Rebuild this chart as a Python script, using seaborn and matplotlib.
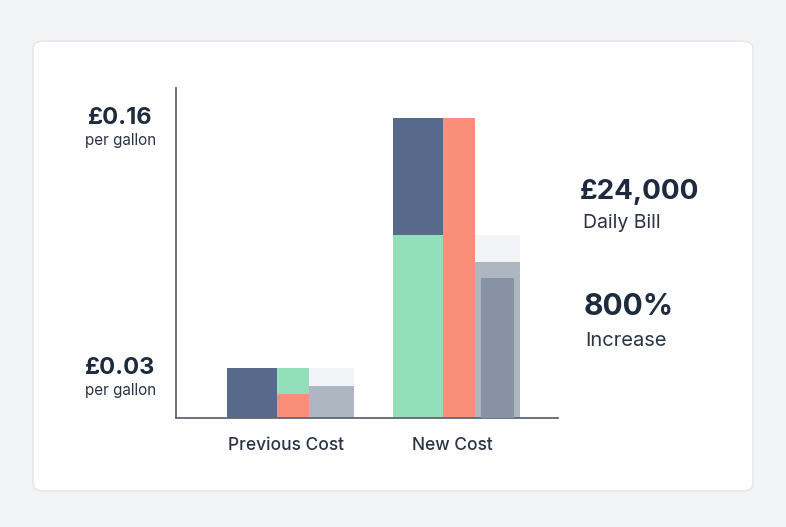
import seaborn as sns
from matplotlib import pyplot as plt
from matplotlib.patches import FancyBboxPatch
import pandas as pd

# data (cost per gallon, GBP)
groups = ["Previous Cost", "New Cost"]
col1_bottom = [0.0, 0.0976]     # green base (New only)
col1_top = [0.0267, 0.0624]     # dark blue on top
col2_bottom = [0.0128, 0.16]    # coral
col2_top = [0.0139, 0.0]        # green on top (Previous only)
col3_back = [0.0267, 0.0976]    # faint backdrop
col3_gray = [0.0171, 0.0832]    # gray bar
col3_inner = [0.0, 0.0747]      # darker inner bar
price_labels = ["£0.16", "£0.03"]
price_values = [0.16, 0.0267]

sns.set_theme(style="white")
plt.rcParams["font.family"] = ["Inter", "DejaVu Sans"]

BLUE = "#576a8c"
GREEN = "#93dfba"
CORAL = "#fa8e78"
GRAY = "#aeb6c2"
DGRAY = "#8792a4"
FAINT = "#f2f4f7"
INK = "#1e2a3d"

fig = plt.figure(figsize=(7.86, 5.27), dpi=100)
fig.patch.set_facecolor("#f3f4f6")
card = FancyBboxPatch((33 / 786, 36 / 527), 720 / 786, 450 / 527,
                      boxstyle="round,pad=0,rounding_size=0.014",
                      transform=fig.transFigure, facecolor="white",
                      edgecolor="#e3e5e9", linewidth=1.0, zorder=0)
fig.patches.append(card)

ax = fig.add_axes([176 / 786, 109 / 527, 382 / 786, 330 / 527])
ax.set_facecolor("none")
ax.set_zorder(2)

df = pd.DataFrame({"group": groups, "c1b": col1_bottom, "c1t": col1_top,
                   "c2b": col2_bottom, "c2t": col2_top, "c3a": col3_back,
                   "c3g": col3_gray, "c3i": col3_inner})
x = range(len(df))
w1, w2, w3 = 0.301, 0.195, 0.271
kw = dict(align="edge", linewidth=0)

ax.bar([i + 0.494 for i in x], df["c3a"], width=w3, color=FAINT, zorder=1, **kw)
ax.bar([i + 0.494 for i in x], df["c3g"], width=w3, color=GRAY, zorder=2, **kw)
ax.bar([i + 0.53 for i in x], df["c3i"], width=0.199, color=DGRAY, zorder=3, **kw)
ax.bar(list(x), df["c1b"], width=w1, color=GREEN, zorder=2, **kw)
ax.bar(list(x), df["c1t"], bottom=df["c1b"], width=w1, color=BLUE, zorder=2, **kw)
ax.bar([i + w1 for i in x], df["c2b"], width=w2, color=CORAL, zorder=2, **kw)
ax.bar([i + w1 for i in x], df["c2t"], bottom=df["c2b"], width=w2, color=GREEN, zorder=2, **kw)

ax.set_xlim(-0.307, 1.994)
ax.set_ylim(0, 0.176)
ax.set_xticks([i + 0.357 for i in x])
ax.set_xticklabels(groups, fontsize=12.5, color="#2b3445", fontweight="medium")
ax.tick_params(axis="x", length=0, pad=14)
ax.set_yticks([])
sns.despine(ax=ax)
for s in ["left", "bottom"]:
    ax.spines[s].set_color("#5f6673")
    ax.spines[s].set_linewidth(1.3)

# price labels to the left of the axis
for lab, v in zip(price_labels, price_values):
    ax.annotate(lab, xy=(0, v), xycoords=("axes fraction", "data"),
                xytext=(-40, 0), textcoords="offset points", ha="center", va="center",
                fontsize=17, fontweight="bold", color=INK, annotation_clip=False)
    ax.annotate("per gallon", xy=(0, v), xycoords=("axes fraction", "data"),
                xytext=(-40, -16), textcoords="offset points", ha="center", va="center",
                fontsize=11, color="#2b3445", annotation_clip=False)

fig.text(580 / 786, 1 - 192 / 527, "£24,000", fontsize=20, fontweight="bold", color=INK, va="center")
fig.text(583 / 786, 1 - 223 / 527, "Daily Bill", fontsize=14, color="#2b3445", va="center")
fig.text(584 / 786, 1 - 307 / 527, "800%", fontsize=21.5, fontweight="bold", color=INK, va="center")
fig.text(585 / 786, 1 - 341 / 527, "Increase", fontsize=14.5, color="#2b3445", va="center")

fig.savefig("out.png", dpi=100, facecolor=fig.get_facecolor())
